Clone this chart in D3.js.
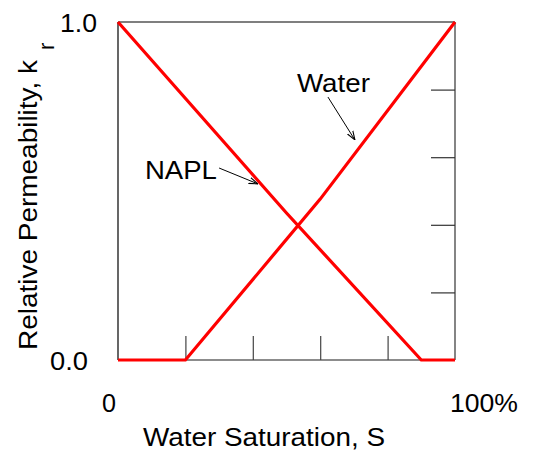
<!DOCTYPE html>
<html>
<head>
<meta charset="utf-8">
<script src="https://cdn.jsdelivr.net/npm/d3@7"></script>
<style>
  body { margin: 0; background: #fff; }
  text { font-family: "Liberation Sans", Arial, sans-serif; fill: #000; }
</style>
</head>
<body>
<div id="chart"></div>
<script>
// water saturation (fraction) vs relative permeability
var waterSat = [0, 0.2, 0.6, 1.0];
var waterKr  = [0, 0, 0.476, 1.0];
var naplSat  = [0, 0.5, 0.9, 1.0];
var naplKr   = [1.0, 0.435, 0, 0];

var bottomTicks = [0.2, 0.4, 0.6, 0.8];
var rightTicks  = [0.2, 0.4, 0.6, 0.8];

var width = 534, height = 451,
    plotLeft = 118, plotRight = 455, plotTop = 22, plotBottom = 360,
    tickLen = 24;

var svg = d3.select('#chart')
    .append('svg')
    .attr('width', width)
    .attr('height', height);

var x = d3.scaleLinear().domain([0, 1]).range([plotLeft, plotRight]);
var y = d3.scaleLinear().domain([0, 1]).range([plotBottom, plotTop]);

svg.append('defs')
    .append('marker')
    .attr('id', 'arrow')
    .attr('viewBox', '0 -5 10 10')
    .attr('refX', 10)
    .attr('refY', 0)
    .attr('markerWidth', 9)
    .attr('markerHeight', 9)
    .attr('markerUnits', 'userSpaceOnUse')
    .attr('orient', 'auto')
    .append('path')
    .attr('d', 'M0,-3.5L10,0L0,3.5')
    .attr('fill', 'none')
    .attr('stroke', '#000')
    .attr('stroke-width', 1.2);

// frame: top and left black, bottom and right grey
svg.append('line').attr('x1', x(0)).attr('x2', x(1)).attr('y1', y(1)).attr('y2', y(1))
    .attr('stroke', '#000').attr('stroke-width', 1.2);
svg.append('line').attr('x1', x(0)).attr('x2', x(0)).attr('y1', y(0)).attr('y2', y(1))
    .attr('stroke', '#000').attr('stroke-width', 1.2);

// bottom axis with inward ticks
var xAxis = d3.axisBottom(x).tickValues(bottomTicks).tickSize(-tickLen).tickFormat('');
var gx = svg.append('g').attr('transform', 'translate(0,' + plotBottom + ')').call(xAxis);
gx.select('.domain').attr('d', 'M' + plotLeft + ',0H' + plotRight).attr('stroke', '#666').attr('stroke-width', 1.6);
gx.selectAll('.tick line').attr('stroke', '#444').attr('stroke-width', 1.2);

// right axis with inward ticks
var yAxis = d3.axisRight(y).tickValues(rightTicks).tickSize(-tickLen).tickFormat('');
var gy = svg.append('g').attr('transform', 'translate(' + plotRight + ',0)').call(yAxis);
gy.select('.domain').attr('d', 'M0,' + plotTop + 'V' + plotBottom).attr('stroke', '#666').attr('stroke-width', 1.6);
gy.selectAll('.tick line').attr('stroke', '#333').attr('stroke-width', 1.2);

var line = d3.line()
    .x(function (d) { return x(d[0]); })
    .y(function (d) { return y(d[1]); });

svg.append('path')
    .datum(d3.zip(waterSat, waterKr))
    .attr('d', line)
    .attr('fill', 'none')
    .attr('stroke', '#ff0000')
    .attr('stroke-width', 3.2);

svg.append('path')
    .datum(d3.zip(naplSat, naplKr))
    .attr('d', line)
    .attr('fill', 'none')
    .attr('stroke', '#ff0000')
    .attr('stroke-width', 3.2);

// annotations
svg.append('text').attr('x', x(0.531)).attr('y', y(0.793))
    .attr('font-size', 26).attr('textLength', 73).attr('lengthAdjust', 'spacingAndGlyphs')
    .text('Water');
svg.append('line')
    .attr('x1', x(0.623)).attr('y1', y(0.778))
    .attr('x2', x(0.703)).attr('y2', y(0.651))
    .attr('stroke', '#000').attr('stroke-width', 1)
    .attr('marker-end', 'url(#arrow)');

svg.append('text').attr('x', x(0.08)).attr('y', y(0.536))
    .attr('font-size', 26).attr('textLength', 72).attr('lengthAdjust', 'spacingAndGlyphs')
    .text('NAPL');
svg.append('line')
    .attr('x1', x(0.30)).attr('y1', y(0.568))
    .attr('x2', x(0.415)).attr('y2', y(0.521))
    .attr('stroke', '#000').attr('stroke-width', 1)
    .attr('marker-end', 'url(#arrow)');

// tick labels
svg.append('text').attr('x', 60).attr('y', 32)
    .attr('font-size', 26).attr('textLength', 37).attr('lengthAdjust', 'spacingAndGlyphs').text('1.0');
svg.append('text').attr('x', 50).attr('y', 370)
    .attr('font-size', 26).attr('textLength', 38).attr('lengthAdjust', 'spacingAndGlyphs').text('0.0');
svg.append('text').attr('x', 102).attr('y', 412)
    .attr('font-size', 26).attr('textLength', 14).attr('lengthAdjust', 'spacingAndGlyphs').text('0');
svg.append('text').attr('x', 450).attr('y', 412)
    .attr('font-size', 26).attr('textLength', 68).attr('lengthAdjust', 'spacingAndGlyphs').text('100%');

// axis titles
svg.append('text').attr('x', 143).attr('y', 446)
    .attr('font-size', 26).attr('textLength', 242).attr('lengthAdjust', 'spacingAndGlyphs')
    .text('Water Saturation, S');

var yt = svg.append('text')
    .attr('transform', 'translate(37,350) rotate(-90)')
    .attr('font-size', 26);
yt.append('tspan').attr('x', 0).attr('y', 0)
    .attr('textLength', 290).attr('lengthAdjust', 'spacingAndGlyphs')
    .text('Relative Permeability, k');
yt.append('tspan').attr('x', 300).attr('y', 17)
    .attr('font-size', 22).text('r');
</script>
</body>
</html>
